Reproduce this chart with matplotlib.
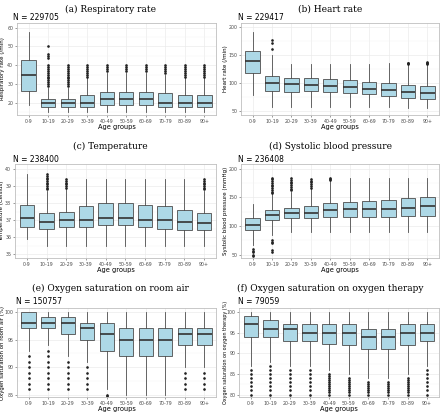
import matplotlib
matplotlib.use("Agg")
import matplotlib.pyplot as plt
from matplotlib.ticker import MultipleLocator

groups = ["0-9", "10-19", "20-29", "30-39", "40-49", "50-59", "60-69", "70-79", "80-89", "90+"]

# (a) Respiratory rate
rr_q1 = [26.5, 18, 18, 18, 19, 19, 19, 18, 18, 18]
rr_med = [35, 20, 20, 20, 22, 22, 22, 20, 20, 20]
rr_q3 = [43, 22, 22, 24, 26, 26, 26, 25, 24, 24]
rr_lo = [19, 15, 15, 15, 15, 15, 15, 15, 15, 15]
rr_hi = [57.5, 28, 28, 33, 36, 36, 36, 35, 33, 33]
rr_out = [[],
          [29, 30, 31, 32, 33, 34, 35, 36, 37, 38, 39, 40, 44, 45, 46, 50],
          [29, 30, 31, 32, 33, 34, 35, 36, 37, 38, 39, 40],
          [34, 35, 36, 37, 38, 39, 40],
          [37, 38, 39, 40],
          [37, 38, 39, 40],
          [37, 38, 39, 40],
          [36, 37, 38, 39, 40],
          [34, 35, 36, 37, 38, 39, 40],
          [34, 35, 36, 37, 38, 39, 40]]

# (b) Heart rate
hr_q1 = [118.5, 86, 85, 86, 85, 82, 80, 77, 74, 72]
hr_med = [140, 100, 98, 97, 95, 93, 90, 88, 85, 83]
hr_q3 = [158, 112.5, 110, 110, 107, 105, 102, 100, 97, 95]
hr_lo = [78, 57, 57, 57, 57, 57, 57, 57, 56, 56]
hr_hi = [191, 150, 135, 135, 135, 135, 135, 136, 134, 134]
hr_out = [[], [162, 172, 178], [], [], [], [], [], [], [135, 136, 137], [135, 136, 137, 138]]

# (c) Temperature
tp_q1 = [36.6, 36.5, 36.6, 36.6, 36.7, 36.7, 36.6, 36.5, 36.4, 36.4]
tp_med = [37.1, 36.9, 37.0, 37.0, 37.1, 37.1, 37.0, 37.0, 36.9, 36.8]
tp_q3 = [37.9, 37.4, 37.5, 37.8, 38.0, 38.0, 37.9, 37.8, 37.6, 37.4]
tp_lo = [35.9, 35.5, 35.5, 35.5, 35.5, 35.5, 35.5, 35.5, 35.5, 35.5]
tp_hi = [39.7, 38.7, 38.8, 39.4, 39.4, 39.4, 39.4, 39.4, 39.4, 38.7]
tp_out = [[],
          [38.8, 38.9, 39.0, 39.1, 39.2, 39.3, 39.4, 39.5, 39.6, 39.7],
          [38.9, 39.0, 39.1, 39.2, 39.3, 39.4],
          [], [], [], [], [], [],
          [38.8, 38.9, 39.0, 39.1, 39.2, 39.3, 39.4]]

# (d) Systolic blood pressure
bp_q1 = [92, 110, 113, 114, 115, 116, 116, 116, 117, 118]
bp_med = [102, 119, 122, 123, 127, 129, 130, 130, 132, 134]
bp_q3 = [113, 128, 132, 135, 140, 142, 144, 146, 149, 151]
bp_lo = [66, 85, 90, 90, 90, 90, 90, 90, 90, 90]
bp_hi = [139, 155, 160, 165, 178, 184, 184, 184, 184, 184]
bp_out = [[60, 57, 54, 50, 48],
          [75, 72, 70, 58, 55, 157, 160, 163, 166, 169, 172, 175, 178, 181, 183],
          [162, 165, 168, 171, 174, 177, 180, 183],
          [167, 170, 173, 176, 179, 182],
          [180, 182, 184],
          [], [], [], [], []]

# (e) Oxygen saturation on room air
ra_q1 = [97, 97, 96, 95, 93, 92, 92, 92, 94, 94]
ra_med = [98, 98, 98, 97, 96, 95, 95, 95, 96, 96]
ra_q3 = [100, 99, 99, 98, 98, 97, 97, 97, 97, 97]
ra_lo = [93, 94, 92, 91, 86, 85, 85, 85, 90, 90]
ra_hi = [100, 100, 100, 100, 100, 100, 100, 100, 100, 100]
ra_out = [[92, 91, 90, 89, 88, 87, 86],
          [93, 92, 91, 90, 89, 88, 87, 86],
          [91, 90, 89, 88, 87, 86],
          [90, 89, 88, 87, 86],
          [85, 84.8],
          [], [], [],
          [89, 88, 87, 86],
          [89, 88, 87, 86]]

# (f) Oxygen saturation on oxygen therapy
ot_q1 = [94, 94, 93, 93, 92.3, 92, 91, 91, 92, 93]
ot_med = [97, 96, 96, 95, 95, 95, 94, 94, 95, 95]
ot_q3 = [99, 98, 97, 97, 97, 97, 96, 96, 97, 97]
ot_lo = [87, 88, 87, 87, 86, 85, 84, 84, 85, 87]
ot_hi = [100, 100, 100, 100, 100, 100, 100, 100, 100, 100]
ot_out = [[86, 85, 84, 83, 82, 81, 80],
          [87, 86, 85, 84, 83, 82, 81, 80],
          [86, 85, 84, 83, 82, 81, 80],
          [86, 85, 84, 83, 82, 81, 80],
          [85, 84.5, 84, 83.5, 83, 82.5, 82, 81.5, 81, 80.5, 80],
          [84, 83.5, 83, 82.5, 82, 81.5, 81, 80.5, 80],
          [83, 82.5, 82, 81.5, 81, 80.5, 80],
          [83, 82.5, 82, 81.5, 81, 80.5, 80],
          [84, 83.5, 83, 82.5, 82, 81.5, 81, 80.5, 80],
          [86, 85, 84, 83, 82, 81, 80]]

panels = [
    dict(title="(a) Respiratory rate", n="N = 229705", ylabel="Respiratory rate (/min)",
         stats=(rr_q1, rr_med, rr_q3, rr_lo, rr_hi, rr_out), ylim=(13.5, 62.5), major=10, minor=5,
         box=(17, 216, 23, 115), tx=110, ty=9, nx=13, ny=17, ylx=3, ylfs=4.0),
    dict(title="(b) Heart rate", n="N = 229417", ylabel="Heart rate (/min)",
         stats=(hr_q1, hr_med, hr_q3, hr_lo, hr_hi, hr_out), ylim=(43, 208), major=50, minor=25,
         box=(241, 439, 23, 115), tx=330, ty=9, nx=238, ny=17, ylx=225, ylfs=4.0),
    dict(title="(c) Temperature", n="N = 238400", ylabel="Temperature (Celsius)",
         stats=(tp_q1, tp_med, tp_q3, tp_lo, tp_hi, tp_out), ylim=(34.77, 40.3), major=1, minor=0.5,
         box=(15, 216, 164, 258), tx=110, ty=146, nx=13, ny=159, ylx=2, ylfs=4.0),
    dict(title="(d) Systolic blood pressure", n="N = 236408", ylabel="Systolic blood pressure (mmHg)",
         stats=(bp_q1, bp_med, bp_q3, bp_lo, bp_hi, bp_out), ylim=(44, 208), major=50, minor=25,
         box=(241, 439, 164, 258), tx=330, ty=146, nx=238, ny=159, ylx=225, ylfs=4.0),
    dict(title="(e) Oxygen saturation on room air", n="N = 150757", ylabel="Oxygen saturation on room air (%)",
         stats=(ra_q1, ra_med, ra_q3, ra_lo, ra_hi, ra_out), ylim=(84.6, 100.7), major=5, minor=2.5,
         box=(17, 216, 308, 397), tx=110, ty=288, nx=16, ny=302, ylx=3, ylfs=3.9),
    dict(title="(f) Oxygen saturation on oxygen therapy", n="N = 79059", ylabel="Oxygen saturation on oxygen therapy (%)",
         stats=(ot_q1, ot_med, ot_q3, ot_lo, ot_hi, ot_out), ylim=(79.4, 101), major=5, minor=2.5,
         box=(239, 439, 308, 397), tx=330, ty=288, nx=238, ny=302, ylx=225, ylfs=3.5),
]

W, H = 440, 413
fig = plt.figure(figsize=(W / 100, H / 100), dpi=100)
fig.patch.set_facecolor("white")

grid_c = "#EBEBEB"
for p in panels:
    l, r, t, b = p["box"]
    ax = fig.add_axes([l / W, 1 - b / H, (r - l) / W, (b - t) / H])
    q1, med, q3, lo, hi, out = p["stats"]
    bxp_stats = []
    for i in range(len(groups)):
        bxp_stats.append(dict(q1=q1[i], med=med[i], q3=q3[i], whislo=lo[i], whishi=hi[i],
                              fliers=out[i], label=groups[i]))
    ax.bxp(bxp_stats, positions=range(1, len(groups) + 1), widths=0.74, patch_artist=True,
           showcaps=False,
           boxprops=dict(facecolor="#ADD8E6", edgecolor="#4D4D4D", linewidth=0.6),
           medianprops=dict(color="#333333", linewidth=1.2),
           whiskerprops=dict(color="#4D4D4D", linewidth=0.6),
           flierprops=dict(marker="o", markersize=0.9, markerfacecolor="#222222",
                           markeredgecolor="#222222", linestyle="none"))
    ax.set_xlim(0.4, len(groups) + 0.6)
    ax.set_ylim(*p["ylim"])
    ax.yaxis.set_major_locator(MultipleLocator(p["major"]))
    ax.yaxis.set_minor_locator(MultipleLocator(p["minor"]))
    ax.set_axisbelow(True)
    ax.grid(True, which="major", color=grid_c, linewidth=0.5)
    ax.grid(True, which="minor", axis="y", color="#F4F4F4", linewidth=0.3)
    for s in ax.spines.values():
        s.set_color("#BFBFBF")
        s.set_linewidth(0.6)
    ax.tick_params(axis="both", which="major", labelsize=3.4, colors="#4D4D4D", length=1.5,
                   width=0.4, pad=1.2)
    ax.tick_params(axis="both", which="minor", length=0)
    ax.set_xticks(range(1, len(groups) + 1))
    ax.set_xticklabels(groups)
    ax.set_xlabel("Age groups", fontsize=4.8, labelpad=0.5)
    fig.text(p["ylx"] / W, 1 - (t + b) / 2 / H, p["ylabel"], rotation=90, fontsize=p["ylfs"],
             ha="center", va="center")
    fig.text(p["tx"] / W, 1 - p["ty"] / H, p["title"], fontsize=6.5, family="DejaVu Serif",
             ha="center", va="center")
    fig.text(p["nx"] / W, 1 - p["ny"] / H, p["n"], fontsize=5.5, ha="left", va="center")

fig.savefig("out.png", dpi=100, facecolor="white")
